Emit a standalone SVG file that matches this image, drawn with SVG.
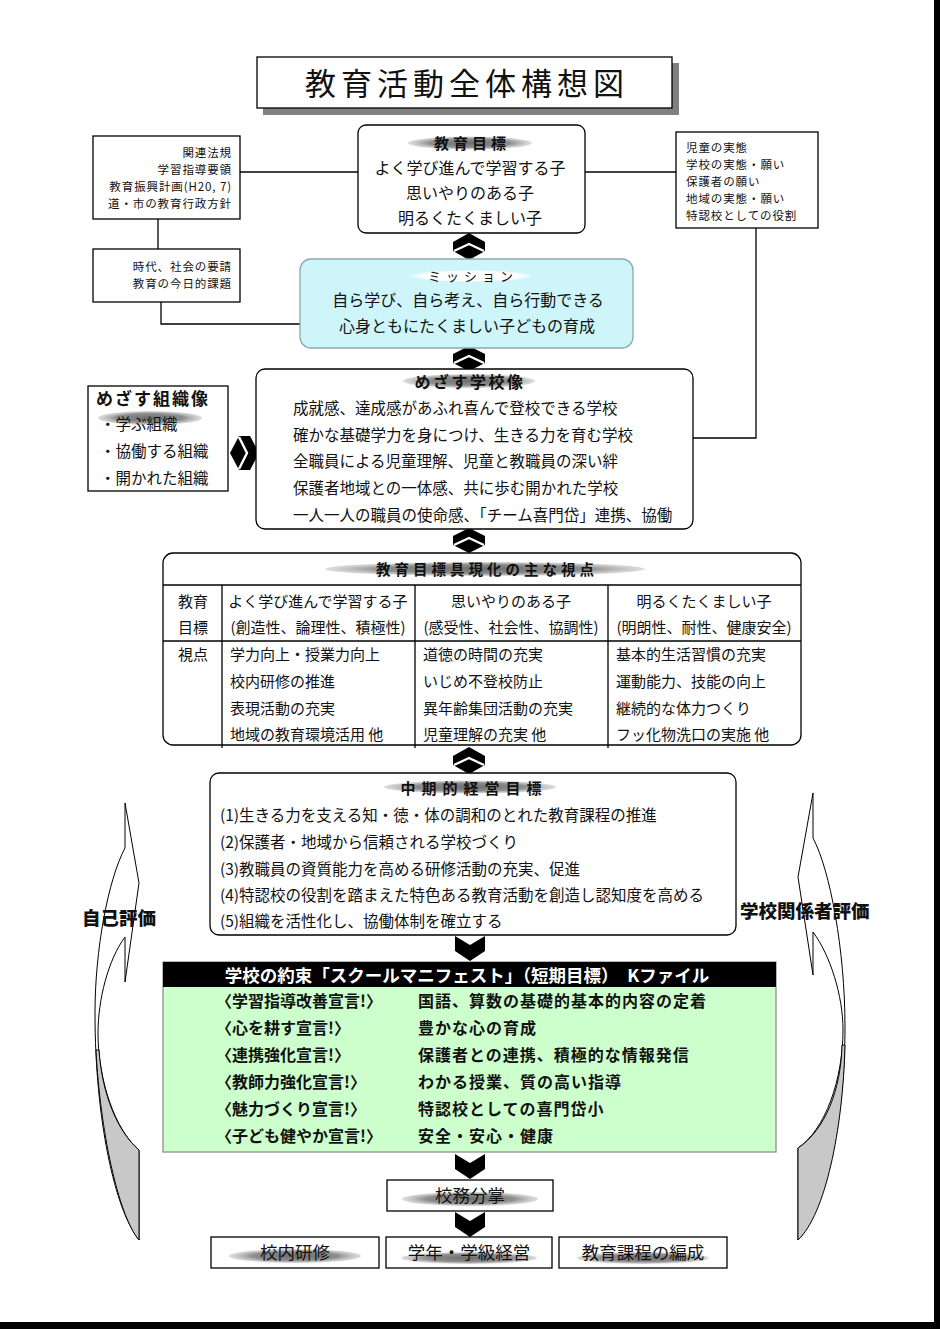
<svg xmlns="http://www.w3.org/2000/svg" width="940" height="1329" viewBox="0 0 940 1329">
<defs>
<radialGradient id="gy" cx="50%" cy="50%" r="50%">
<stop offset="0%" stop-color="#6e6e6e"/><stop offset="65%" stop-color="#8e8e8e"/><stop offset="100%" stop-color="#bdbdbd" stop-opacity="0.5"/>
</radialGradient>
<radialGradient id="wh" cx="50%" cy="50%" r="50%">
<stop offset="0%" stop-color="#ffffff"/><stop offset="75%" stop-color="#ffffff"/><stop offset="100%" stop-color="#ffffff" stop-opacity="0.2"/>
</radialGradient>
<style>
text{font-family:"Noto Sans CJK JP","Noto Sans CJK SC",sans-serif;fill:#111}
.box{fill:#fff;stroke:#000;stroke-width:1.3}
.ln{fill:none;stroke:#000;stroke-width:1.3}
.s12{font-size:11.5px;letter-spacing:0.9px}
.s15{font-size:15px}
.s155{font-size:15.5px}
.s16{font-size:16px}
.b16{font-size:16px;font-weight:bold}
.hd{font-weight:bold;text-anchor:middle}
.m{text-anchor:middle}
.r{text-anchor:end}
.chev{fill:#000}
.wst{fill:none;stroke:#fff;stroke-width:2.4}
</style>
</defs>
<rect width="940" height="1329" fill="#fff"/>
<rect x="934" y="0" width="6" height="1329" fill="#000"/>
<rect x="0" y="1322" width="940" height="7" fill="#000"/>

<g id="title">
<rect x="263" y="63" width="416" height="52" fill="#808080"/>
<rect x="257" y="57" width="415" height="51" class="box"/>
<text x="467" y="95" class="m" style="font-size:31px;letter-spacing:5px">教育活動全体構想図</text>
</g>

<g id="connectors">
<line x1="240" y1="172" x2="358" y2="172" class="ln"/>
<line x1="585" y1="172" x2="676" y2="172" class="ln"/>
<line x1="158" y1="219" x2="158" y2="249" class="ln"/>
<polyline points="161,302 161,324 300,324" class="ln"/>
<polyline points="756,228 756,438 693,438" class="ln"/>
<g>
<path class="chev" d="M469,233 L485,242 L485,251 L469,260 L453,251 L453,242 Z"/>
<polyline class="wst" points="454,251 469,244 484,251"/>
<path class="chev" d="M469,346 L485,354 L485,363 L469,371 L453,363 L453,354 Z"/>
<polyline class="wst" points="454,363 469,356 484,363"/>
<path class="chev" d="M469,528 L485,536 L485,545 L469,553 L453,545 L453,536 Z"/>
<polyline class="wst" points="454,545 469,538 484,545"/>
<path class="chev" d="M469,747 L485,756 L485,765 L469,774 L453,765 L453,756 Z"/>
<polyline class="wst" points="454,765 469,758 484,765"/>
<path class="chev" d="M230,453 L239,436 L250,436 L259,453 L250,470 L239,470 Z"/>
<polyline class="wst" points="239,437 247,453 239,469"/>
<path class="chev" d="M455,936 L470,945 L485,936 L485,951 L470,961 L455,951 Z"/>
<path class="chev" d="M455,1154 L470,1163 L485,1154 L485,1169 L470,1179 L455,1169 Z"/>
<path class="chev" d="M455,1212 L470,1221 L485,1212 L485,1227 L470,1237 L455,1227 Z"/>
</g>
</g>

<g id="laws">
<rect x="93" y="136" width="147" height="83" class="box"/>
<text x="232" y="157" class="s12 r">関連法規</text>
<text x="232" y="174" class="s12 r">学習指導要領</text>
<text x="232" y="191" class="s12 r">教育振興計画(H20, 7)</text>
<text x="232" y="208" class="s12 r">道・市の教育行政方針</text>
</g>

<g id="era">
<rect x="93" y="249" width="147" height="53" class="box"/>
<text x="232" y="271" class="s12 r">時代、社会の要請</text>
<text x="232" y="288" class="s12 r">教育の今日的課題</text>
</g>

<g id="actual">
<rect x="676" y="132" width="142" height="96" class="box"/>
<text x="686" y="152" class="s12">児童の実態</text>
<text x="686" y="169" class="s12">学校の実態・願い</text>
<text x="686" y="186" class="s12">保護者の願い</text>
<text x="686" y="203" class="s12">地域の実態・願い</text>
<text x="686" y="220" class="s12">特認校としての役割</text>
</g>

<g id="goal">
<rect x="358" y="125" width="227" height="108" rx="8" class="box"/>
<ellipse cx="470" cy="143" rx="62" ry="6.5" fill="url(#gy)"/>
<text x="472" y="149" class="hd" style="font-size:15px;letter-spacing:4px">教育目標</text>
<text x="470" y="174" class="s16 m">よく学び進んで学習する子</text>
<text x="470" y="199" class="s16 m">思いやりのある子</text>
<text x="470" y="224" class="s16 m">明るくたくましい子</text>
</g>

<g id="mission">
<rect x="300" y="259" width="333" height="89" rx="11" fill="#cdf5fa" stroke="#8aa9ad" stroke-width="1.3"/>
<ellipse cx="471" cy="276" rx="62" ry="6" fill="url(#wh)"/>
<text x="473" y="281" class="m" style="font-size:13px;letter-spacing:5px">ミッション</text>
<text x="468" y="306" class="s16 m">自ら学び、自ら考え、自ら行動できる</text>
<text x="467" y="332" class="s16 m">心身ともにたくましい子どもの育成</text>
</g>

<g id="org">
<rect x="88" y="386" width="140" height="105" class="box"/>
<ellipse cx="150" cy="418" rx="52" ry="7" fill="url(#gy)"/>
<text x="96" y="405" style="font-size:17px;font-weight:bold;letter-spacing:2px">めざす組織像</text>
<text x="100" y="430" class="s155">・学ぶ組織</text>
<text x="100" y="457" class="s155">・協働する組織</text>
<text x="100" y="484" class="s155">・開かれた組織</text>
</g>

<g id="school">
<rect x="256" y="369" width="437" height="160" rx="9" class="box"/>
<ellipse cx="469" cy="381" rx="66" ry="7" fill="url(#gy)"/>
<text x="470" y="388" class="hd" style="font-size:16px;letter-spacing:2.5px">めざす学校像</text>
<text x="293" y="414" class="s155">成就感、達成感があふれ喜んで登校できる学校</text>
<text x="293" y="441" class="s155">確かな基礎学力を身につけ、生きる力を育む学校</text>
<text x="293" y="467" class="s155">全職員による児童理解、児童と教職員の深い絆</text>
<text x="293" y="494" class="s155">保護者地域との一体感、共に歩む開かれた学校</text>
<text x="293" y="521" class="s155">一人一人の職員の使命感、「チーム喜門岱」連携、協働</text>
</g>

<g id="viewpoints">
<rect x="163" y="553" width="638" height="192" rx="10" class="box"/>
<ellipse cx="485" cy="569" rx="160" ry="7" fill="url(#gy)"/>
<text x="487" y="575" class="hd" style="font-size:14.5px;letter-spacing:4px">教育目標具現化の主な視点</text>
<line x1="163" y1="585" x2="801" y2="585" class="ln"/>
<line x1="163" y1="641" x2="801" y2="641" class="ln"/>
<line x1="222" y1="585" x2="222" y2="748" class="ln"/>
<line x1="415" y1="585" x2="415" y2="748" class="ln"/>
<line x1="608" y1="585" x2="608" y2="748" class="ln"/>
<text x="193" y="607" class="s15 m">教育</text>
<text x="193" y="633" class="s15 m">目標</text>
<text x="193" y="660" class="s15 m">視点</text>
<text x="318" y="607" class="s15 m">よく学び進んで学習する子</text>
<text x="318" y="633" class="s15 m">(創造性、論理性、積極性)</text>
<text x="511" y="607" class="s15 m">思いやりのある子</text>
<text x="511" y="633" class="s15 m">(感受性、社会性、協調性)</text>
<text x="704" y="607" class="s15 m">明るくたくましい子</text>
<text x="704" y="633" class="s15 m">(明朗性、耐性、健康安全)</text>
<text x="230" y="660" class="s15">学力向上・授業力向上</text>
<text x="230" y="687" class="s15">校内研修の推進</text>
<text x="230" y="714" class="s15">表現活動の充実</text>
<text x="230" y="740" class="s15">地域の教育環境活用 他</text>
<text x="423" y="660" class="s15">道徳の時間の充実</text>
<text x="423" y="687" class="s15">いじめ不登校防止</text>
<text x="423" y="714" class="s15">異年齢集団活動の充実</text>
<text x="423" y="740" class="s15">児童理解の充実 他</text>
<text x="616" y="660" class="s15">基本的生活習慣の充実</text>
<text x="616" y="687" class="s15">運動能力、技能の向上</text>
<text x="616" y="714" class="s15">継続的な体力つくり</text>
<text x="616" y="740" class="s15">フッ化物洗口の実施 他</text>
</g>

<g id="midterm">
<rect x="210" y="773" width="526" height="162" rx="9" class="box"/>
<ellipse cx="470" cy="787" rx="86" ry="6.5" fill="url(#gy)"/>
<text x="474" y="794" class="hd" style="font-size:15px;letter-spacing:6px">中期的経営目標</text>
<text x="220" y="821" class="s155">(1)生きる力を支える知・徳・体の調和のとれた教育課程の推進</text>
<text x="220" y="848" class="s155">(2)保護者・地域から信頼される学校づくり</text>
<text x="220" y="875" class="s155">(3)教職員の資質能力を高める研修活動の充実、促進</text>
<text x="220" y="901" class="s155">(4)特認校の役割を踏まえた特色ある教育活動を創造し認知度を高める</text>
<text x="220" y="927" class="s155">(5)組織を活性化し、協働体制を確立する</text>
</g>

<g id="manifest">
<rect x="163" y="962" width="613" height="190" fill="#ccffcc" stroke="#888" stroke-width="1.2"/>
<rect x="163" y="962" width="613" height="25" fill="#000"/>
<text x="467" y="982" class="hd" style="font-size:17.5px;fill:#fff">学校の約束「スクールマニフェスト」（短期目標）　Kファイル</text>
<text x="216" y="1007" class="b16">〈学習指導改善宣言!〉</text>
<text x="216" y="1034" class="b16">〈心を耕す宣言!〉</text>
<text x="216" y="1061" class="b16">〈連携強化宣言!〉</text>
<text x="216" y="1088" class="b16">〈教師力強化宣言!〉</text>
<text x="216" y="1115" class="b16">〈魅力づくり宣言!〉</text>
<text x="216" y="1142" class="b16">〈子ども健やか宣言!〉</text>
<text x="418" y="1007" class="b16" style="letter-spacing:1px">国語、算数の基礎的基本的内容の定着</text>
<text x="418" y="1034" class="b16" style="letter-spacing:1px">豊かな心の育成</text>
<text x="418" y="1061" class="b16" style="letter-spacing:1px">保護者との連携、積極的な情報発信</text>
<text x="418" y="1088" class="b16" style="letter-spacing:1px">わかる授業、質の高い指導</text>
<text x="418" y="1115" class="b16" style="letter-spacing:1px">特認校としての喜門岱小</text>
<text x="418" y="1142" class="b16" style="letter-spacing:1px">安全・安心・健康</text>
</g>

<g id="duties">
<rect x="387" y="1180" width="166" height="31" class="box"/>
<ellipse cx="470" cy="1199" rx="68" ry="7" fill="url(#gy)"/>
<text x="470" y="1202" class="m" style="font-size:17.5px">校務分掌</text>
</g>
<g id="training">
<rect x="211" y="1237" width="168" height="31" class="box"/>
<ellipse cx="295" cy="1256" rx="66" ry="7" fill="url(#gy)"/>
<text x="295" y="1259" class="m" style="font-size:17.5px">校内研修</text>
</g>
<g id="grade">
<rect x="386" y="1237" width="166" height="31" class="box"/>
<ellipse cx="469" cy="1258" rx="68" ry="6" fill="url(#gy)"/>
<text x="469" y="1259" class="m" style="font-size:17.5px">学年・学級経営</text>
</g>
<g id="curriculum">
<rect x="559" y="1237" width="168" height="31" class="box"/>
<ellipse cx="643" cy="1258" rx="66" ry="6" fill="url(#gy)"/>
<text x="643" y="1259" class="m" style="font-size:17.5px">教育課程の編成</text>
</g>

<g id="self-eval">
<path d="M125,803 L139,883 L125,982 L125,937 C108,960 98,1000 98,1033 C98,1080 115,1130 139,1150 L139,1240 C115,1210 95,1120 95,1013 C95,950 108,880 125,848 Z" fill="#fff" stroke="#000" stroke-width="1"/>
<path d="M96,1050 C100,1130 118,1215 139,1240 L139,1150 C118,1132 102,1095 99,1050 Z" fill="#c8c8c8" stroke="#000" stroke-width="1"/>
<text x="82" y="925" style="font-size:18.5px;font-weight:900">自己評価</text>
</g>

<g id="stakeholder-eval">
<path d="M813,793 L798,877 L813,975 L813,932 C830,955 843,995 843,1030 C843,1080 825,1130 798,1148 L798,1240 C825,1210 845,1120 845,1027 C845,950 830,870 813,838 Z" fill="#fff" stroke="#000" stroke-width="1"/>
<path d="M845,1045 C843,1130 825,1215 798,1240 L798,1148 C825,1130 841,1090 842,1045 Z" fill="#c8c8c8" stroke="#000" stroke-width="1"/>
<text x="740" y="918" style="font-size:18.5px;font-weight:900">学校関係者評価</text>
</g>
</svg>
